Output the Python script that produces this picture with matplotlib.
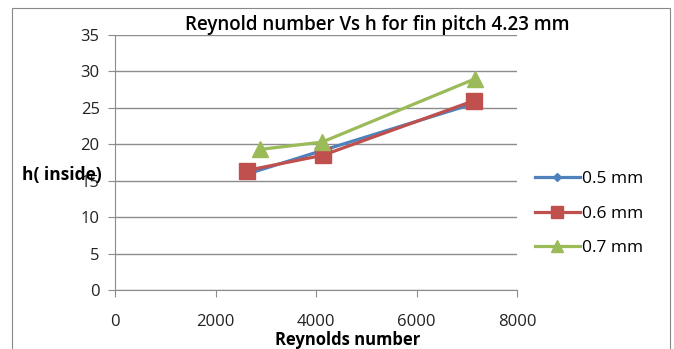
import matplotlib
matplotlib.use("Agg")
import matplotlib.pyplot as plt
from matplotlib.patches import Rectangle

plt.rcParams['font.family'] = ['Open Sans', 'DejaVu Sans']

reynolds_05 = [2620, 4150, 7150]
h_05 = [15.9, 19.2, 25.6]
reynolds_06 = [2620, 4140, 7150]
h_06 = [16.4, 18.5, 26.0]
reynolds_07 = [2890, 4120, 7170]
h_07 = [19.3, 20.3, 29.0]
series_labels = ["0.5 mm", "0.6 mm", "0.7 mm"]
x_ticks = [0, 2000, 4000, 6000, 8000]
y_ticks = [0, 5, 10, 15, 20, 25, 30, 35]

fig = plt.figure(figsize=(6.74, 3.49), dpi=100)
fig.patches.append(Rectangle((12/674, -0.01), 658/674, 1 - 8/349 + 0.01, transform=fig.transFigure,
                             fill=False, edgecolor='#888888', linewidth=0.8))
ax = fig.add_axes([115/674, 1 - 290/349, (517 - 115)/674, (290 - 35)/349])

ax.plot(reynolds_05, h_05, color='#4F81BD', lw=2.3, marker='D', ms=5, label=series_labels[0])
ax.plot(reynolds_06, h_06, color='#C0504D', lw=2.3, marker='s', ms=11, label=series_labels[1])
ax.plot(reynolds_07, h_07, color='#9BBB59', lw=2.3, marker='^', ms=11, label=series_labels[2])

ax.set_xlim(0, 8000)
ax.set_ylim(0, 35)
ax.set_xticks(x_ticks)
ax.set_yticks(y_ticks)
ax.grid(axis='y', color='#8c8c8c', lw=1)
ax.set_axisbelow(True)
for s in ['top', 'right']:
    ax.spines[s].set_visible(False)
for s in ['left', 'bottom']:
    ax.spines[s].set_color('#8c8c8c')
ax.tick_params(axis='both', colors='#8c8c8c', labelcolor='#222222', labelsize=12, length=5, direction='out')
ax.tick_params(axis='x', pad=12)
ax.tick_params(axis='y', pad=6)

fig.text(348/674, 1 - 340/349, "Reynolds number", fontsize=12, fontweight='bold',
         ha='center', va='center')
fig.text(22/674, 1 - 175/349, "h( inside)", fontsize=12.5, fontweight='bold', ha='left', va='center')
fig.text(377/674, 1 - 25/349, "Reynold number Vs h for fin pitch 4.23 mm", fontsize=13.5,
         fontweight='semibold', ha='center', va='center')

leg = ax.legend(loc='center left', bbox_to_anchor=(1.027, 0.30), frameon=False, fontsize=12.5,
                handlelength=2.6, labelspacing=1.05, handletextpad=0.1, markerscale=0.8,
                borderaxespad=0)

fig.savefig("out.png", dpi=100)
